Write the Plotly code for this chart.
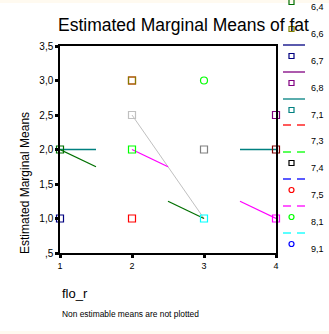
import plotly.graph_objects as go

# ---------------- data ----------------
x_ticks = [1, 2, 3, 4]
x_tick_labels = ["1", "2", "3", "4"]
y_ticks = [0.5, 1.0, 1.5, 2.0, 2.5, 3.0, 3.5]
y_tick_labels = [",5", "1,0", "1,5", "2,0", "2,5", "3,0", "3,5"]

# marker points per colour
point_x = [1, 1, 2, 2, 2, 2, 2, 3, 3, 3, 4, 4, 4]
point_y = [2.0, 1.0, 3.0, 3.0, 2.5, 2.0, 1.0, 3.0, 2.0, 1.0, 2.5, 2.0, 1.0]
point_color = ["#007000", "#000080", "#ff0000", "#808000", "#c0c0c0", "#00ff00", "#ff0000",
               "#00ff00", "#808080", "#00ffff", "#800080", "#800000", "#ff00ff"]
point_symbol = ["square-open"] * 7 + ["circle-open", "square-open", "square-open",
                                      "square-open", "square-open", "square-open"]

# visible line pieces (None = gap)
teal_x = [1, 1.5, None, 3.5, 4]
teal_y = [2.0, 2.0, None, 2.0, 2.0]
dgreen_x = [1, 1.5, None, 2.5, 3]
dgreen_y = [2.0, 1.75, None, 1.25, 1.0]
magenta_x = [2, 2.5, None, 3.5, 4]
magenta_y = [2.0, 1.75, None, 1.25, 1.0]
lgray_x = [2, 3]
lgray_y = [2.5, 1.0]

# legend
legend_labels = ["6,4", "6,6", "6,7", "6,8", "7,1", "7,3", "7,4", "7,5", "8,1", "9,1"]
legend_line_color = [None, None, "#000080", "#800080", "#008080", "#ff0000", "#00ff00",
                     "#0000ff", "#ff00ff", "#00ffff"]
legend_line_dash = [None, None, "solid", "solid", "solid", "dash", "dash", "dash", "dash", "dash"]
legend_marker_color = ["#007000", "#808000", "#000080", "#800080", "#008080", None,
                       "#000000", "#ff0000", "#00ff00", "#0000ff"]
legend_marker_shape = ["rect", "rect", "rect", "rect", "rect", None, "rect", "circle", "circle", "circle"]

# ---------------- layout helpers ----------------
W, H = 329, 334
L, R, T, B = 60, 276, 46, 253


def px(xp):
    return (xp - L) / (R - L)


def py(yp):
    return (B - yp) / (B - T)


fig = go.Figure()

for lx, ly, col, w in [(lgray_x, lgray_y, "#c0c0c0", 1),
                       (teal_x, teal_y, "#008080", 1.5),
                       (dgreen_x, dgreen_y, "#007000", 1.3),
                       (magenta_x, magenta_y, "#ff00ff", 1.3)]:
    fig.add_trace(go.Scatter(x=lx, y=ly, mode="lines", line=dict(color=col, width=w),
                             hoverinfo="skip", cliponaxis=False))

fig.add_trace(go.Scatter(
    x=point_x, y=point_y, mode="markers", cliponaxis=False,
    marker=dict(symbol=point_symbol, size=7, color=point_color,
                line=dict(color=point_color, width=1.2))))

shapes = []
annotations = []

# cream strips
shapes.append(dict(type="rect", xref="paper", yref="paper", x0=px(0), x1=px(W), y0=py(0), y1=py(3),
                   fillcolor="#fffaf0", line=dict(width=0), layer="below"))
shapes.append(dict(type="rect", xref="paper", yref="paper", x0=px(0), x1=px(W), y0=py(331), y1=py(334),
                   fillcolor="#fffaf0", line=dict(width=0), layer="below"))

# legend
for i, lab in enumerate(legend_labels):
    base = 2 + 27 * i  # marker centre (pixels)
    if i >= 5:
        base = 2 + 27 * i - 1
    ly = base - 11
    if legend_line_color[i]:
        if legend_line_dash[i] == "solid":
            shapes.append(dict(type="line", xref="paper", yref="paper", x0=px(283), x1=px(305),
                               y0=py(ly), y1=py(ly), line=dict(color=legend_line_color[i], width=1.3)))
        else:
            for a, b in [(283, 291), (297, 305)]:
                shapes.append(dict(type="line", xref="paper", yref="paper", x0=px(a), x1=px(b),
                                   y0=py(ly), y1=py(ly), line=dict(color=legend_line_color[i], width=1.3)))
    if legend_marker_shape[i]:
        c = legend_marker_color[i]
        shapes.append(dict(type=legend_marker_shape[i], xref="paper", yref="paper",
                           x0=px(289), x1=px(294), y0=py(base - 2.5), y1=py(base + 2.5),
                           line=dict(color=c, width=1.2)))
    annotations.append(dict(text=lab, xref="paper", yref="paper", x=px(309), y=py(base + 5),
                            xanchor="left", yanchor="middle", showarrow=False,
                            font=dict(size=9, color="#000000", family="Liberation Sans")))

# title & other texts
annotations.append(dict(text="Estimated Marginal Means of fat", xref="paper", yref="paper",
                        x=px(183), y=py(25), xanchor="center", yanchor="middle", showarrow=False,
                        font=dict(size=17.5, color="#000000", family="Liberation Sans")))
annotations.append(dict(text="Estimated Marginal Means", xref="paper", yref="paper",
                        x=px(25), y=py(183), xanchor="center", yanchor="middle", showarrow=False,
                        textangle=-90,
                        font=dict(size=12, color="#000000", family="Liberation Sans")))
annotations.append(dict(text="flo_r", xref="paper", yref="paper",
                        x=px(60), y=py(293), xanchor="left", yanchor="middle", showarrow=False,
                        font=dict(size=13, color="#000000", family="Liberation Sans")))
annotations.append(dict(text="Non estimable means are not plotted", xref="paper", yref="paper",
                        x=px(60), y=py(314), xanchor="left", yanchor="middle", showarrow=False,
                        font=dict(size=8.4, color="#000000", family="Liberation Sans")))

fig.update_layout(
    width=W, height=H, margin=dict(l=L, r=W - R, t=T, b=H - B),
    paper_bgcolor="#ffffff", plot_bgcolor="#ffffff", showlegend=False,
    shapes=shapes, annotations=annotations,
    xaxis=dict(range=[1, 4], tickvals=x_ticks, ticktext=x_tick_labels, showgrid=False,
               zeroline=False, showline=True, linecolor="#000000", linewidth=1.5, mirror=True,
               ticks="outside", ticklen=3, tickwidth=3, tickcolor="#000000",
               tickfont=dict(size=9, color="#000000", family="Liberation Sans")),
    yaxis=dict(range=[0.5, 3.5], tickvals=y_ticks, ticktext=y_tick_labels, showgrid=False,
               zeroline=False, showline=True, linecolor="#000000", linewidth=1.5, mirror=True,
               ticks="outside", ticklen=3, tickwidth=3, tickcolor="#000000",
               tickfont=dict(size=10, color="#000000", family="Liberation Sans")),
)

fig.write_html("out.html")
